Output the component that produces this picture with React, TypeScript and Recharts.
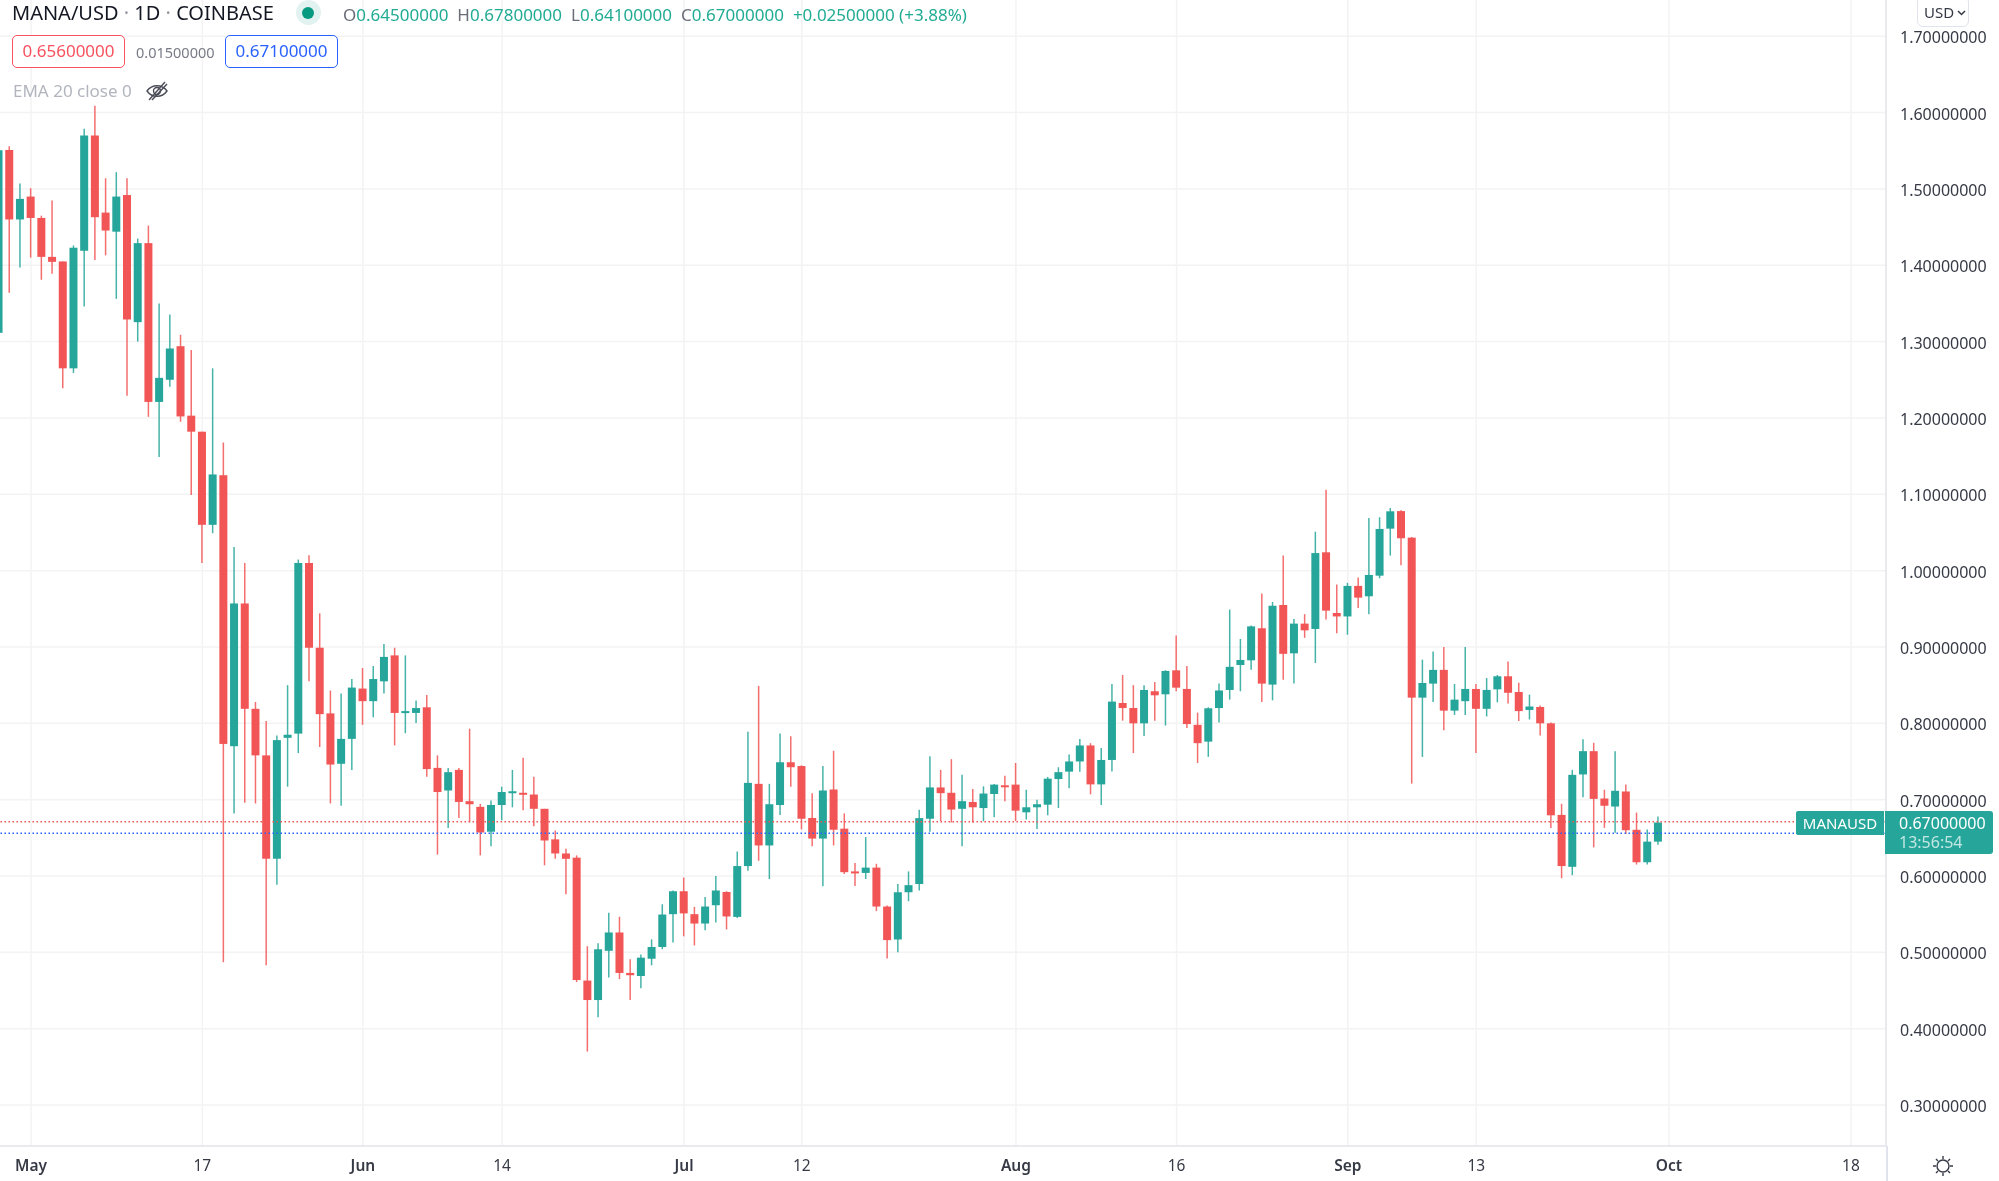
import React from "react";
import { BarChart, Bar, XAxis, YAxis, CartesianGrid, ReferenceLine } from "recharts";

const FONT = "'Noto Sans', 'Open Sans', sans-serif";
const TEAL = "#26a69a";
const RED = "#f25555";
const GRID = "#f3f3f4";
const AXIS = "#e0e3eb";
const TEXT = "#363a45";

// Daily candles, 28 Apr to 30 Sep
const opens = [
  1.3115, 1.551, 1.46,
  1.49, 1.462, 1.411, 1.405, 1.265, 1.419, 1.57, 1.469, 1.444, 1.492, 1.3255, 1.429, 1.221, 1.25, 1.294, 1.203, 1.182, 1.06, 1.125, 0.77, 0.957, 0.819, 0.758, 0.6226, 0.781, 0.7865, 1.01, 0.899, 0.813, 0.747, 0.7796,
  0.8455, 0.829, 0.855, 0.889, 0.814, 0.8136, 0.821, 0.7416, 0.712, 0.739, 0.698, 0.6906, 0.658, 0.693, 0.7095, 0.709, 0.7067, 0.688, 0.648, 0.6295, 0.624, 0.463, 0.4375, 0.502, 0.526, 0.473, 0.469, 0.4916, 0.507, 0.55,
  0.58, 0.55, 0.5377, 0.5617, 0.579, 0.5464, 0.613, 0.7207, 0.64, 0.693, 0.749, 0.744, 0.676, 0.649, 0.7133, 0.662, 0.606, 0.604, 0.611, 0.56, 0.5168, 0.5787, 0.5895, 0.675, 0.716, 0.709, 0.688, 0.697, 0.689, 0.7074, 0.7188,
  0.7197, 0.6834, 0.69, 0.6934, 0.727, 0.7367, 0.75, 0.771, 0.72, 0.752, 0.8266, 0.82, 0.8, 0.842, 0.838, 0.8694, 0.845, 0.798, 0.776, 0.82, 0.8437, 0.8764, 0.8825, 0.9245, 0.8507, 0.955, 0.8917, 0.9306, 0.9236, 1.024, 0.9445,
  0.94, 0.98, 0.9664, 0.9934, 1.055, 1.078, 1.0432, 0.8336, 0.852, 0.87, 0.8166, 0.829, 0.845, 0.819, 0.8445, 0.8616, 0.841, 0.8175, 0.8214, 0.8, 0.68, 0.612, 0.733, 0.7635, 0.7015, 0.691, 0.7107, 0.6605, 0.618, 0.645,
];
const closes = [
  1.5507, 1.46, 1.487,
  1.462, 1.411, 1.4045, 1.265, 1.423, 1.57, 1.463, 1.4455, 1.49, 1.329, 1.429, 1.221, 1.2525, 1.291, 1.202, 1.182, 1.06, 1.126, 0.773, 0.957, 0.819, 0.758, 0.6226, 0.778, 0.785, 1.01, 0.899, 0.812, 0.746, 0.7796, 0.8468,
  0.829, 0.858, 0.887, 0.8136, 0.816, 0.82, 0.74, 0.71, 0.736, 0.697, 0.694, 0.657, 0.693, 0.71, 0.711, 0.7067, 0.688, 0.6465, 0.6295, 0.6225, 0.4637, 0.4375, 0.504, 0.526, 0.473, 0.47, 0.493, 0.507, 0.5495, 0.58,
  0.551, 0.5377, 0.56, 0.581, 0.547, 0.613, 0.722, 0.64, 0.694, 0.749, 0.7425, 0.675, 0.649, 0.712, 0.6606, 0.605, 0.604, 0.611, 0.56, 0.516, 0.5787, 0.588, 0.6758, 0.716, 0.7085, 0.687, 0.698, 0.69, 0.708, 0.7197, 0.717,
  0.6856, 0.69, 0.694, 0.7275, 0.736, 0.75, 0.771, 0.72, 0.752, 0.8284, 0.82, 0.8, 0.8437, 0.8367, 0.8686, 0.8467, 0.799, 0.774, 0.8197, 0.843, 0.874, 0.883, 0.927, 0.852, 0.954, 0.891, 0.9306, 0.9218, 1.023, 0.9476, 0.94,
  0.98, 0.9646, 0.9943, 1.0546, 1.0777, 1.0424, 0.8336, 0.8528, 0.87, 0.8166, 0.831, 0.845, 0.819, 0.8437, 0.8616, 0.84, 0.816, 0.822, 0.8, 0.6795, 0.613, 0.7325, 0.7635, 0.701, 0.692, 0.7116, 0.66, 0.618, 0.645, 0.67,
];
const highs = [
  1.56, 1.556, 1.507,
  1.501, 1.465, 1.485, 1.405, 1.426, 1.579, 1.609, 1.514, 1.522, 1.514, 1.435, 1.452, 1.35, 1.3355, 1.309, 1.289, 1.182, 1.265, 1.168, 1.031, 1.01, 0.828, 0.803, 0.784, 0.85, 1.0145, 1.02, 0.944, 0.843, 0.839, 0.858,
  0.8725, 0.875, 0.904, 0.899, 0.889, 0.83, 0.837, 0.758, 0.7416, 0.7416, 0.793, 0.6945, 0.699, 0.717, 0.739, 0.755, 0.73, 0.688, 0.6596, 0.6356, 0.627, 0.508, 0.512, 0.552, 0.5466, 0.491, 0.497, 0.517, 0.563, 0.581,
  0.598, 0.5595, 0.5726, 0.6, 0.58, 0.632, 0.789, 0.849, 0.7207, 0.7865, 0.783, 0.745, 0.7085, 0.744, 0.764, 0.682, 0.617, 0.651, 0.616, 0.5615, 0.5895, 0.606, 0.6867, 0.757, 0.739, 0.753, 0.7325, 0.714, 0.7175, 0.7205, 0.7314,
  0.748, 0.713, 0.7, 0.7297, 0.7424, 0.759, 0.7795, 0.774, 0.7677, 0.8515, 0.8633, 0.85, 0.85, 0.854, 0.8695, 0.915, 0.875, 0.814, 0.821, 0.852, 0.949, 0.9105, 0.928, 0.97, 0.959, 1.0197, 0.9367, 0.943, 1.051, 1.106, 0.9817,
  0.984, 0.991, 1.069, 1.07, 1.082, 1.079, 1.044, 0.8834, 0.894, 0.9, 0.8515, 0.9, 0.8515, 0.8594, 0.8633, 0.881, 0.853, 0.8376, 0.8232, 0.801, 0.6946, 0.739, 0.779, 0.7744, 0.713, 0.7635, 0.72, 0.683, 0.661, 0.678,
];
const lows = [
  1.31, 1.364, 1.397,
  1.41, 1.381, 1.389, 1.239, 1.259, 1.346, 1.407, 1.413, 1.356, 1.229, 1.3, 1.2015, 1.149, 1.241, 1.195, 1.099, 1.01, 1.049, 0.487, 0.682, 0.696, 0.695, 0.483, 0.5885, 0.717, 0.761, 0.855, 0.769, 0.695, 0.692, 0.739,
  0.798, 0.808, 0.839, 0.771, 0.787, 0.8005, 0.73, 0.628, 0.663, 0.676, 0.6705, 0.627, 0.639, 0.673, 0.69, 0.686, 0.665, 0.614, 0.6225, 0.576, 0.461, 0.37, 0.415, 0.467, 0.465, 0.4375, 0.453, 0.483, 0.504, 0.513,
  0.521, 0.509, 0.529, 0.539, 0.53, 0.545, 0.607, 0.62, 0.596, 0.68, 0.717, 0.661, 0.639, 0.5865, 0.64, 0.6026, 0.587, 0.596, 0.554, 0.492, 0.5, 0.567, 0.581, 0.658, 0.672, 0.67, 0.639, 0.67, 0.6716, 0.677, 0.698,
  0.672, 0.674, 0.6616, 0.6795, 0.689, 0.715, 0.7367, 0.707, 0.693, 0.737, 0.8035, 0.761, 0.7834, 0.8035, 0.797, 0.842, 0.794, 0.748, 0.756, 0.801, 0.831, 0.842, 0.87, 0.828, 0.83, 0.857, 0.852, 0.912, 0.879, 0.936, 0.918,
  0.916, 0.951, 0.943, 0.99, 1.0197, 1.007, 0.721, 0.756, 0.828, 0.791, 0.811, 0.811, 0.761, 0.809, 0.8275, 0.826, 0.803, 0.805, 0.784, 0.663, 0.597, 0.601, 0.703, 0.6375, 0.663, 0.6566, 0.655, 0.615, 0.615, 0.641,
];

// Time axis: days counted from 1 May
const firstDay = -3;
const timeTicks = [0, 16, 31, 44, 61, 72, 92, 107, 123, 135, 153, 170];
const timeLabels = ["May", "17", "Jun", "14", "Jul", "12", "Aug", "16", "Sep", "13", "Oct", "18"];
const priceTicks = [0.3, 0.4, 0.5, 0.6, 0.7, 0.8, 0.9, 1.0, 1.1, 1.2, 1.3, 1.4, 1.5, 1.6, 1.7];
const askPrice = 0.671;
const bidPrice = 0.656;

const rows = opens.map((open, i) => ({
  day: firstDay + i,
  open,
  close: closes[i],
  high: highs[i],
  low: lows[i],
  range: [lows[i], highs[i]],
}));

function Candle(props: any) {
  const { x, y, width, height, payload } = props;
  const { open, close, high, low } = payload;
  const color = close >= open ? TEAL : RED;
  const pxPerUnit = height / (high - low);
  const top = y + (high - Math.max(open, close)) * pxPerUnit;
  const bottom = y + (high - Math.min(open, close)) * pxPerUnit;
  const cx = x + width / 2;
  return (
    <g>
      <line x1={cx} x2={cx} y1={y} y2={y + height} stroke={color} strokeWidth={1.5} opacity={0.85} />
      <rect x={x} y={top} width={width} height={Math.max(bottom - top, 2)} fill={color} />
    </g>
  );
}

function TimeTick(props: any) {
  const { x, y, payload } = props;
  const label = timeLabels[timeTicks.indexOf(payload.value)];
  const major = isNaN(Number(label));
  return (
    <text x={x} y={y} textAnchor="middle" dominantBaseline="central" fontFamily={FONT} fontSize={15.5} fontWeight={major ? 600 : 400} fill={TEXT}>
      {label}
    </text>
  );
}

function PriceTick(props: any) {
  const { x, y, payload } = props;
  return (
    <text x={x} y={y + 1} dominantBaseline="central" fontFamily={FONT} fontSize={16} fill={TEXT}>
      {payload.value.toFixed(8)}
    </text>
  );
}

const abs = (left: number, top: number, extra: React.CSSProperties = {}): React.CSSProperties => ({
  position: "absolute",
  left,
  top,
  whiteSpace: "nowrap",
  fontFamily: FONT,
  ...extra,
});

const priceBox = (left: number, color: string, text: string) => (
  <div
    style={abs(left, 35, {
      width: 113,
      height: 33,
      boxSizing: "border-box",
      border: `1.5px solid ${color}`,
      borderRadius: 5,
      color,
      fontSize: 17,
      lineHeight: "30px",
      textAlign: "center",
      background: "#fff",
    })}
  >
    {text}
  </div>
);

const ohlc: [string, string][] = [
  ["O", "0.64500000"],
  ["H", "0.67800000"],
  ["L", "0.64100000"],
  ["C", "0.67000000"],
];

export default function App() {
  return (
    <div style={{ position: "fixed", left: 0, top: 0, width: 1999, height: 1181, overflow: "hidden", background: "#fff", filter: "blur(0.35px)" }}>
      <BarChart width={1999} height={1181} data={rows} margin={{ top: 0, right: 0, bottom: 0, left: 0 }}>
        <CartesianGrid stroke={GRID} strokeWidth={1.5} syncWithTicks />
        <XAxis
          type="number"
          dataKey="day"
          domain={[-2.896, 173.27]}
          allowDataOverflow
          ticks={timeTicks}
          tick={<TimeTick />}
          tickLine={false}
          tickSize={0}
          tickMargin={19}
          interval={0}
          height={35}
          axisLine={{ stroke: AXIS, strokeWidth: 1.5 }}
        />
        <YAxis
          orientation="right"
          type="number"
          domain={[0.2463, 1.7475]}
          allowDataOverflow
          ticks={priceTicks}
          tick={<PriceTick />}
          tickLine={false}
          tickSize={0}
          tickMargin={14}
          interval={0}
          width={113}
          axisLine={{ stroke: AXIS, strokeWidth: 1.5 }}
        />
        <Bar dataKey="range" barSize={8} shape={<Candle />} isAnimationActive={false} />
        <ReferenceLine y={askPrice} stroke="#ef5350" strokeWidth={1.4} strokeDasharray="1.5 2.5" />
        <ReferenceLine y={bidPrice} stroke="#2962ff" strokeWidth={1.4} strokeDasharray="1.5 2.5" />
      </BarChart>

      <div style={abs(1886, 1146, { width: 1.5, height: 35, background: AXIS })} />

      {/* Header */}
      <div style={abs(12, 0, { fontSize: 20, lineHeight: "26px", color: "#131722" })}>
        MANA/USD<span style={{ color: "#9598a1" }}> · </span>1D<span style={{ color: "#9598a1" }}> · </span>COINBASE
      </div>
      <div style={abs(296, 0, { width: 25, height: 25, borderRadius: "50%", background: "#e2f2f0" })} />
      <div style={abs(302, 7, { width: 12, height: 12, borderRadius: "50%", background: "#089981" })} />
      <div style={abs(343, 3, { fontSize: 17, lineHeight: "24px", color: "#22ab94" })}>
        {ohlc.map(([k, v]) => (
          <span key={k} style={{ marginRight: 9 }}>
            <span style={{ color: "#6a6d78" }}>{k}</span>
            {v}
          </span>
        ))}
        <span>+0.02500000 (+3.88%)</span>
      </div>

      {priceBox(12, "#f7525f", "0.65600000")}
      <div style={abs(136, 42, { fontSize: 14.5, lineHeight: "20px", color: "#787b86" })}>0.01500000</div>
      {priceBox(225, "#2962ff", "0.67100000")}

      <div style={abs(13, 79, { fontSize: 17, lineHeight: "24px", color: "#b2b5be" })}>EMA 20 close 0</div>
      <svg style={abs(145, 80)} width={24} height={22} viewBox="0 0 24 22" fill="none" stroke="#4a4d57" strokeWidth={1.4}>
        <path d="M2 11 C7 4, 17 4, 22 11 C17 18, 7 18, 2 11 Z" />
        <circle cx={12} cy={11} r={3.5} />
        <path d="M4 20 L20 2" />
        <path d="M7 20 L22 4" />
      </svg>

      {/* Currency button */}
      <div
        style={abs(1917, -4, {
          width: 52,
          height: 31,
          boxSizing: "border-box",
          border: `1.5px solid ${AXIS}`,
          borderRadius: 6,
          background: "#fff",
          fontSize: 15,
          lineHeight: "30px",
          color: TEXT,
          paddingLeft: 6,
        })}
      >
        USD
        <svg width={9} height={6} viewBox="0 0 9 6" fill="none" stroke={TEXT} strokeWidth={1.5} style={{ marginLeft: 3, verticalAlign: 2 }}>
          <path d="M1 1 L4.5 4.5 L8 1" />
        </svg>
      </div>

      {/* Last price labels */}
      <div
        style={abs(1796, 811, {
          width: 88,
          height: 24,
          background: TEAL,
          borderRadius: "2px 0 0 2px",
          color: "#fff",
          fontSize: 15,
          lineHeight: "24px",
          textAlign: "center",
        })}
      >
        MANAUSD
      </div>
      <div style={abs(1885, 811, { width: 108, height: 43, background: TEAL, borderRadius: "0 3px 3px 0", color: "#fff", fontSize: 16 })}>
        <div style={{ position: "absolute", left: 14, top: 1, lineHeight: "22px" }}>0.67000000</div>
        <div style={{ position: "absolute", left: 14, top: 20, lineHeight: "22px", opacity: 0.72 }}>13:56:54</div>
      </div>

      {/* Theme icon */}
      <svg style={abs(1932, 1155)} width={22} height={22} viewBox="0 0 22 22" fill="none" stroke="#363a45" strokeWidth={1.4}>
        <circle cx={11} cy={11} r={6} />
        <path d="M11 1 V4 M11 18 V21 M1 11 H4 M18 11 H21 M4 4 L6 6 M16 16 L18 18 M4 18 L6 16 M16 6 L18 4" />
      </svg>
    </div>
  );
}
